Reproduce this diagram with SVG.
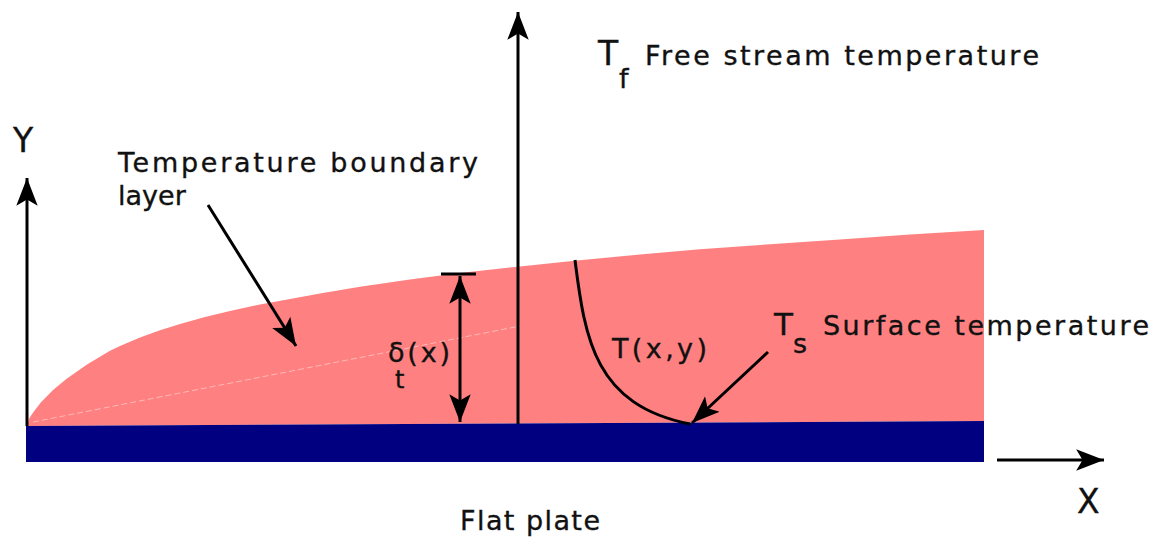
<svg xmlns="http://www.w3.org/2000/svg" width="1153" height="537" viewBox="0 0 1153 537">
<style>
.t{font-family:"DejaVu Sans","Liberation Sans",sans-serif;font-size:27px;fill:#111;stroke:#111;stroke-width:0.35}
.ln{stroke:#000;stroke-width:3;fill:none}
</style>
<defs>
<marker id="ah" markerUnits="userSpaceOnUse" markerWidth="30" markerHeight="24" viewBox="-26 -11 28 22" refX="0" refY="0" orient="auto-start-reverse">
<path d="M0,0 L-26,-10 L-20,0 L-26,10 Z" fill="#000"/>
</marker>
</defs>
<rect width="1153" height="537" fill="#fff"/>
<g id="boundary-layer">
<polygon points="27,426 29,419 31,415.6 35,410 41,402.2 53,390 67,378.5 87,364.5 110,350.7 120,346 140,337.6 160,330.3 180,324 205,317 230,311 260,304.5 290,299 320,293.5 360,286.7 410,279.5 460,273 520,266.5 577,260.6 640,254.6 700,249.3 770,244.2 840,239.6 910,234.6 984,230 984,421" fill="#FF8080"/>
<line x1="33" y1="422" x2="520" y2="326" stroke="#ffc8c8" stroke-width="1" stroke-dasharray="6 3" opacity="0.8"/>
</g>
<g id="plate">
<polygon points="26,426 984,421 984,462 26,462" fill="#000080"/>
</g>
<g id="connectors">
<line class="ln" x1="27" y1="426" x2="27" y2="178" marker-end="url(#ah)"/>
<line class="ln" x1="518" y1="424" x2="518" y2="12" marker-end="url(#ah)"/>
<line class="ln" x1="997" y1="460" x2="1104" y2="460" marker-end="url(#ah)"/>
<line class="ln" x1="208" y1="205" x2="296" y2="346" marker-end="url(#ah)"/>
<line class="ln" x1="460" y1="276" x2="460" y2="422" marker-start="url(#ah)" marker-end="url(#ah)"/>
<line class="ln" x1="441" y1="274" x2="476" y2="274"/>
<path class="ln" d="M575,260 C585,340 595,405 690,424"/>
<line class="ln" x1="768" y1="352" x2="692" y2="423" marker-end="url(#ah)"/>
</g>
<g id="labels">
<text class="t" x="13" y="152" style="font-size:33px">Y</text>
<text class="t" x="118" y="172" textLength="360" lengthAdjust="spacing">Temperature boundary</text>
<text class="t" x="118" y="205">layer</text>
<text class="t" x="598" y="65" style="font-size:33px">T</text>
<text class="t" x="619" y="88">f</text>
<text class="t" x="645" y="65" textLength="394" lengthAdjust="spacing">Free stream temperature</text>
<text class="t" x="388" y="362"><tspan textLength="62" lengthAdjust="spacing">δ(x)</tspan><tspan x="395" y="388" style="font-size:24px">t</tspan></text>
<text class="t" x="612" y="358" textLength="95" lengthAdjust="spacing">T(x,y)</text>
<text class="t" x="774" y="335" style="font-size:31px">T<tspan x="793" y="353" style="font-size:27px">s</tspan></text>
<text class="t" x="823" y="335" textLength="326" lengthAdjust="spacing">Surface temperature</text>
<text class="t" x="1077" y="513" style="font-size:33px">X</text>
<text class="t" x="460" y="530" textLength="140" lengthAdjust="spacing">Flat plate</text>
</g>
</svg>
